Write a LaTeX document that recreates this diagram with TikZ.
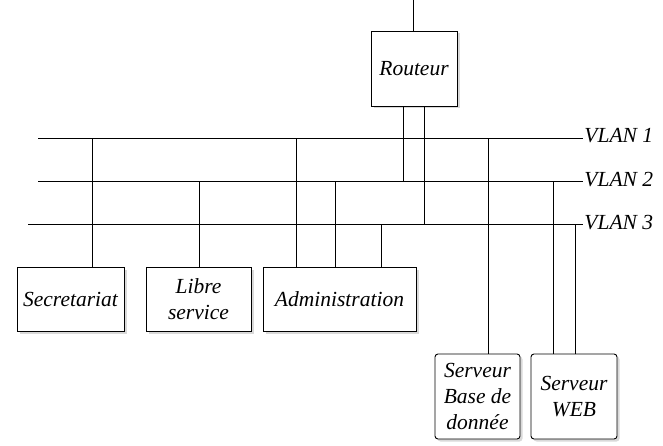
\documentclass[tikz,border=0pt]{standalone}
\usepackage{fontspec}
\setmainfont{Liberation Serif}
\usetikzlibrary{positioning, shadows}

\begin{document}
\begin{tikzpicture}[x=1pt, y=-1pt, line width=0.9pt,
    every node/.style={font=\fontsize{21.5}{26}\selectfont\itshape},
    site/.style={rectangle, draw, fill=white, align=center, inner sep=2pt,
      drop shadow={shadow xshift=2.5pt, shadow yshift=-2.5pt, opacity=0.3}},
    srv/.style={site, rounded corners=0.3em},
    vlan/.style={anchor=west, inner sep=1pt, yshift=2pt}]

    \useasboundingbox (0,0) rectangle (663,446);

    % nodes
    \coordinate (top) at (413,0);
    \node [site, minimum width=86pt, minimum height=75pt] (routeur) at (414,68.5) {Routeur};

    \node [site, minimum width=107pt, minimum height=64pt] (secretariat) at (70.5,299) {Secretariat};
    \node [site, minimum width=105pt, minimum height=64pt] (libre) at (198.5,299) {Libre\\service};
    \node [site, minimum width=153pt, minimum height=64pt] (admin) at (339.5,299) {Administration};

    \node [srv, minimum width=85pt, minimum height=85pt] (bdd) at (477.5,396.5) {Serveur\\Base de\\donnée};
    \node [srv, minimum width=86pt, minimum height=85pt] (web) at (574,396.5) {Serveur\\WEB};

    % vlans
    \coordinate (v1w) at (38,138);
    \coordinate (v2w) at (38,181.5);
    \coordinate (v3w) at (28,224.5);
    \node [vlan] (v1) at (583,138) {VLAN 1};
    \node [vlan] (v2) at (583,181.5) {VLAN 2};
    \node [vlan] (v3) at (583,224.5) {VLAN 3};

    \draw (v1w) -- (v1.west |- v1w);
    \draw (v2w) -- (v2.west |- v2w);
    \draw (v3w) -- (v3.west |- v3w);

    % edges
    \draw (top) -- (top |- routeur.north);
    \draw ([xshift=-11pt]routeur.south) -- ([xshift=-11pt]routeur.south |- v2w);
    \draw ([xshift=10pt]routeur.south) -- ([xshift=10pt]routeur.south |- v3w);

    \draw ([xshift=21.5pt]secretariat.north) -- ([xshift=21.5pt]secretariat.north |- v1w);
    \draw ([xshift=0.5pt]libre.north) -- ([xshift=0.5pt]libre.north |- v2w);
    \draw ([xshift=-43.5pt]admin.north) -- ([xshift=-43.5pt]admin.north |- v1w);
    \draw ([xshift=-4.5pt]admin.north) -- ([xshift=-4.5pt]admin.north |- v2w);
    \draw ([xshift=41.5pt]admin.north) -- ([xshift=41.5pt]admin.north |- v3w);

    \draw ([xshift=10.5pt]bdd.north) -- ([xshift=10.5pt]bdd.north |- v1w);
    \draw ([xshift=-21pt]web.north) -- ([xshift=-21pt]web.north |- v2w);
    \draw ([xshift=1pt]web.north) -- ([xshift=1pt]web.north |- v3w);
\end{tikzpicture}
\end{document}
